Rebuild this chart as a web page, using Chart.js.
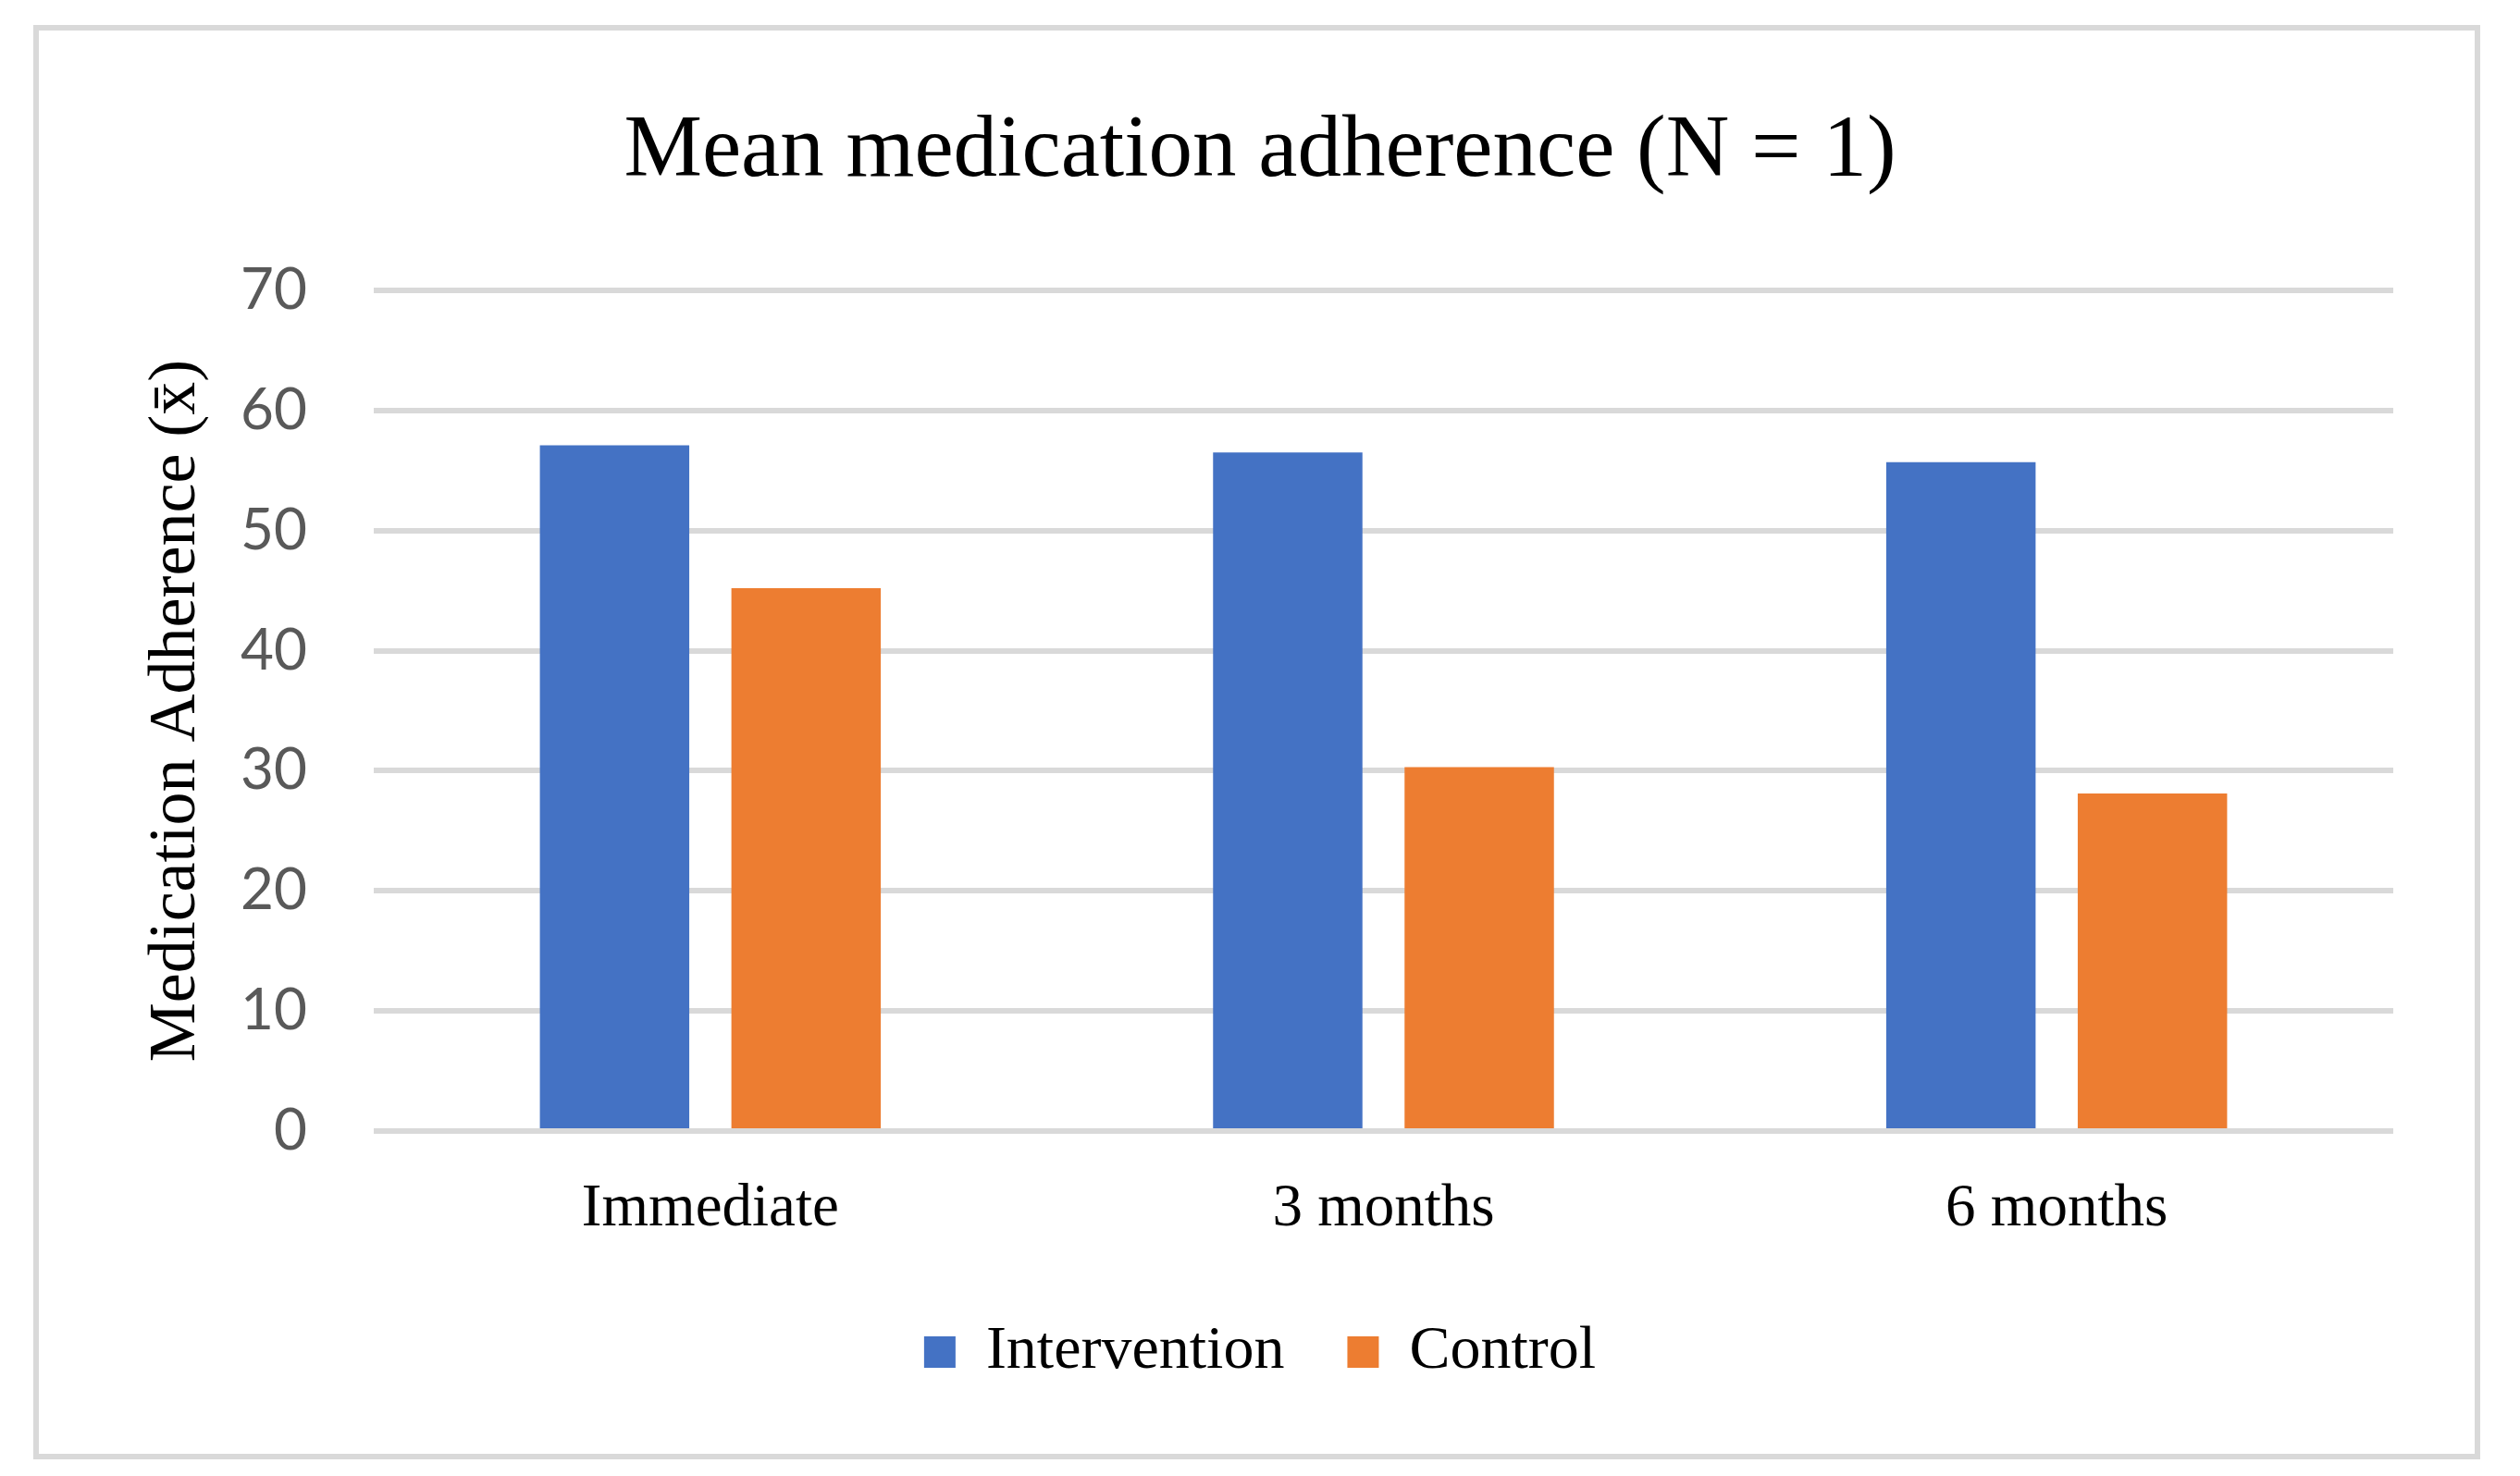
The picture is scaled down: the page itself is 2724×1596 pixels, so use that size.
<!DOCTYPE html>
<html lang="en">
<head>
    <meta charset="UTF-8">
    <title>Mean medication adherence</title>
    <script src="https://cdn.jsdelivr.net/npm/chart.js"></script>
    <style>
        html, body {
            margin: 0;
            padding: 0;
            background: #ffffff;
        }
        .wrap {
            position: relative;
            width: 2724px;
            height: 1596px;
        }
        .frame {
            position: absolute;
            left: 36px;
            top: 27px;
            width: 2633px;
            height: 1539px;
            border: 6px solid #d9d9d9;
            pointer-events: none;
        }
    </style>
</head>
<body>
    <div class="wrap">
        <canvas id="adherenceChart"></canvas>
        <div class="frame"></div>
    </div>

    <script>
        // values
        const timepoints = ['Immediate', '3 months', '6 months'];
        const intervention = [57.1, 56.5, 55.7];
        const control = [45.2, 30.3, 28.1];
        const yTicks = [0, 10, 20, 30, 40, 50, 60, 70];

        const serif = "'Liberation Serif', 'DejaVu Serif', serif";

        new Chart(document.getElementById('adherenceChart').getContext('2d'), {
            type: 'bar',
            data: {
                labels: timepoints,
                datasets: [
                    {
                        label: 'Intervention',
                        data: intervention,
                        backgroundColor: '#4472C4',
                        categoryPercentage: 0.569,
                        barPercentage: 0.78
                    },
                    {
                        label: 'Control',
                        data: control,
                        backgroundColor: '#ED7D31',
                        categoryPercentage: 0.569,
                        barPercentage: 0.78
                    }
                ]
            },
            options: {
                responsive: true,
                maintainAspectRatio: false,
                devicePixelRatio: 1,
                animation: false,
                layout: { padding: { left: 137, right: 137, top: 0, bottom: 91 } },
                plugins: {
                    title: {
                        display: true,
                        text: 'Mean medication adherence (N = 1)',
                        color: '#000000',
                        font: { family: serif, size: 95, weight: 'normal' },
                        padding: { top: 108, bottom: 92 }
                    },
                    legend: {
                        position: 'bottom',
                        labels: {
                            color: '#000000',
                            font: { family: serif, size: 66 },
                            boxWidth: 34,
                            boxHeight: 34,
                            padding: 68
                        }
                    },
                    tooltip: { enabled: false }
                },
                scales: {
                    x: {
                        grid: { display: false },
                        border: { display: false },
                        ticks: {
                            color: '#000000',
                            font: { family: serif, size: 65 },
                            padding: 38
                        },
                        afterFit: s => { s.height = 138; }
                    },
                    y: {
                        min: 0,
                        max: 70,
                        afterBuildTicks: s => { s.ticks = yTicks.map(v => ({ value: v })); },
                        grid: { color: '#d9d9d9', lineWidth: 6, drawTicks: false },
                        border: { display: false },
                        ticks: {
                            color: '#595959',
                            font: { family: "Lato, 'Open Sans', sans-serif", size: 62 },
                            padding: 72
                        },
                        title: {
                            display: true,
                            text: 'Medication Adherence (x\u0304)',
                            color: '#000000',
                            font: { family: serif, size: 72 },
                            padding: { top: 11 }
                        },
                        afterFit: s => { s.width = 267; }
                    }
                }
            }
        });
    </script>
</body>
</html>
